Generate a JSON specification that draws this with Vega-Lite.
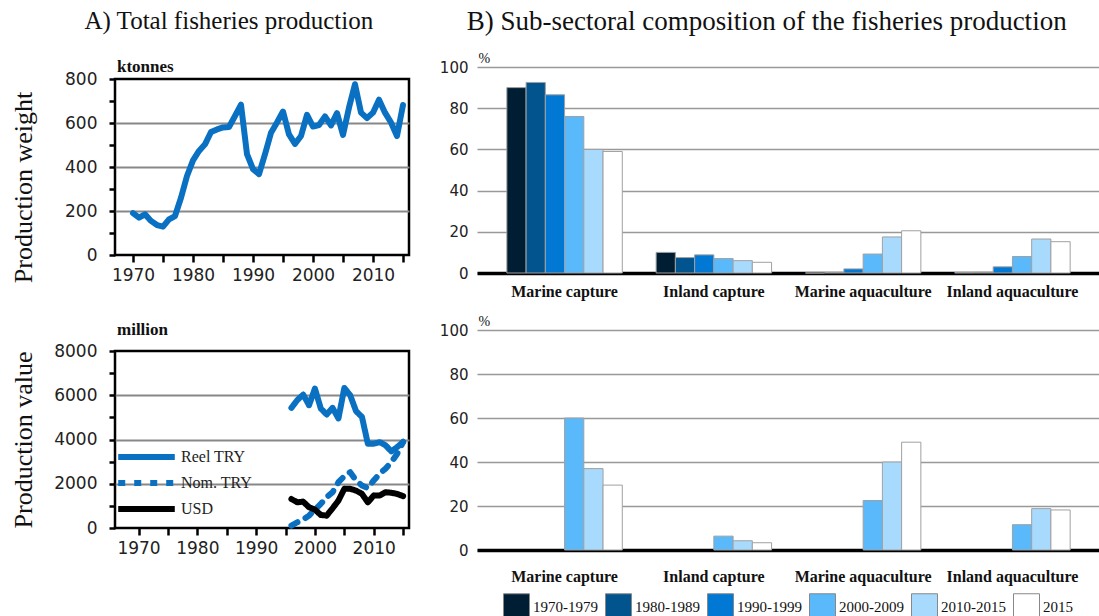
{
  "$schema": "https://vega.github.io/schema/vega-lite/v6.json",
  "background": "white",
  "padding": {"left": 9, "top": 8, "right": 0, "bottom": 0},
  "config": {"view": {"stroke": null}, "font": "Liberation Serif"},
  "spacing": 28,
  "resolve": {"scale": {"color": "independent", "strokeDash": "independent"}, "legend": {"color": "independent", "strokeDash": "independent"}},
  "hconcat": [
    {
      "title": {"text": "A) Total fisheries production", "font": "Liberation Serif", "fontSize": 25, "fontWeight": "normal", "color": "#111", "anchor": "middle", "dx": 19, "offset": 24},
      "spacing": 34,
      "resolve": {"scale": {"color": "independent", "strokeDash": "independent"}, "legend": {"color": "independent", "strokeDash": "independent"}},
      "vconcat": [
        {
          "spacing": -7,
          "vconcat": [
            {
              "width": 294,
              "height": 1,
              "data": {"values": []},
              "mark": {"type": "point", "opacity": 0},
              "title": {"text": "ktonnes", "anchor": "start", "frame": "group", "font": "Liberation Serif", "fontSize": 17, "fontWeight": "bold", "color": "#111", "offset": 0, "dx": 2, "dy": 9}
            },
            {
              "width": 294,
              "height": 176,
              "view": {"stroke": "#000", "strokeWidth": 2.5},
              "data": {"values": [
                {"year": 1970, "value": 190}, {"year": 1971, "value": 170}, {"year": 1972, "value": 185}, {"year": 1973, "value": 155},
                {"year": 1974, "value": 136}, {"year": 1975, "value": 129}, {"year": 1976, "value": 162}, {"year": 1977, "value": 177},
                {"year": 1978, "value": 260}, {"year": 1979, "value": 359}, {"year": 1980, "value": 430}, {"year": 1981, "value": 473},
                {"year": 1982, "value": 503}, {"year": 1983, "value": 559}, {"year": 1984, "value": 571}, {"year": 1985, "value": 580},
                {"year": 1986, "value": 582}, {"year": 1987, "value": 632}, {"year": 1988, "value": 683}, {"year": 1989, "value": 458},
                {"year": 1990, "value": 390}, {"year": 1991, "value": 368}, {"year": 1992, "value": 458}, {"year": 1993, "value": 556},
                {"year": 1994, "value": 602}, {"year": 1995, "value": 652}, {"year": 1996, "value": 548}, {"year": 1997, "value": 505},
                {"year": 1998, "value": 541}, {"year": 1999, "value": 637}, {"year": 2000, "value": 584}, {"year": 2001, "value": 591},
                {"year": 2002, "value": 630}, {"year": 2003, "value": 589}, {"year": 2004, "value": 645}, {"year": 2005, "value": 546},
                {"year": 2006, "value": 670}, {"year": 2007, "value": 776}, {"year": 2008, "value": 647}, {"year": 2009, "value": 622},
                {"year": 2010, "value": 647}, {"year": 2011, "value": 706}, {"year": 2012, "value": 647}, {"year": 2013, "value": 602},
                {"year": 2014, "value": 541}, {"year": 2015, "value": 682}
              ]},
              "mark": {"type": "line", "color": "#0a70c2", "strokeWidth": 6, "strokeJoin": "round", "strokeCap": "round"},
              "encoding": {
                "x": {"field": "year", "type": "quantitative", "scale": {"domain": [1967, 2016], "nice": false, "zero": false},
                  "axis": {"values": [1970, 1975, 1980, 1985, 1990, 1995, 2000, 2005, 2010, 2015], "format": "d", "labelExpr": "datum.value % 10 === 0 ? datum.label : ''",
                    "title": null, "domain": false, "grid": false, "tickColor": "#000", "tickWidth": 2.5, "tickSize": 7,
                    "labelFont": "DejaVu Sans", "labelFontSize": 17, "labelColor": "#222", "labelPadding": 5, "labelFlush": false}},
                "y": {"field": "value", "type": "quantitative", "scale": {"domain": [0, 800], "nice": false},
                  "axis": {"values": [0, 100, 200, 300, 400, 500, 600, 700, 800], "labelExpr": "datum.value % 200 === 0 ? datum.label : ''",
                    "title": "Production weight", "titleFont": "Liberation Serif", "titleFontSize": 26, "titleFontWeight": "normal", "titleColor": "#111", "titlePadding": 28, "titleY": 108,
                    "domain": false, "tickColor": "#000", "tickWidth": 2.5, "tickSize": 6,
                    "labelFont": "DejaVu Sans", "labelFontSize": 17, "labelColor": "#222", "labelPadding": 12, "labelFlush": false,
                    "grid": true, "gridWidth": 2,
                    "gridColor": {"condition": {"test": "datum.value % 200 === 0 && datum.value > 0 && datum.value < 800", "value": "#888"}, "value": "transparent"}}}
              }
            }
          ]
        },
        {
          "width": 294,
          "height": 177,
          "view": {"stroke": "#000", "strokeWidth": 2.5},
          "title": {"text": "million", "anchor": "start", "frame": "group", "font": "Liberation Serif", "fontSize": 17, "fontWeight": "bold", "color": "#111", "offset": 3, "dx": 2},
          "data": {"values": [
            {"year": 1996, "series": "Reel TRY", "value": 5430}, {"year": 1997, "series": "Reel TRY", "value": 5780}, {"year": 1998, "series": "Reel TRY", "value": 6030},
            {"year": 1999, "series": "Reel TRY", "value": 5550}, {"year": 2000, "series": "Reel TRY", "value": 6300}, {"year": 2001, "series": "Reel TRY", "value": 5400},
            {"year": 2002, "series": "Reel TRY", "value": 5130}, {"year": 2003, "series": "Reel TRY", "value": 5430}, {"year": 2004, "series": "Reel TRY", "value": 4950},
            {"year": 2005, "series": "Reel TRY", "value": 6330}, {"year": 2006, "series": "Reel TRY", "value": 6000}, {"year": 2007, "series": "Reel TRY", "value": 5280},
            {"year": 2008, "series": "Reel TRY", "value": 5020}, {"year": 2009, "series": "Reel TRY", "value": 3810}, {"year": 2010, "series": "Reel TRY", "value": 3810},
            {"year": 2011, "series": "Reel TRY", "value": 3880}, {"year": 2012, "series": "Reel TRY", "value": 3740}, {"year": 2013, "series": "Reel TRY", "value": 3460},
            {"year": 2014, "series": "Reel TRY", "value": 3660}, {"year": 2015, "series": "Reel TRY", "value": 3890},
            {"year": 1996, "series": "Nom. TRY", "value": 110}, {"year": 1997, "series": "Nom. TRY", "value": 260}, {"year": 1998, "series": "Nom. TRY", "value": 380},
            {"year": 1999, "series": "Nom. TRY", "value": 560}, {"year": 2000, "series": "Nom. TRY", "value": 830}, {"year": 2001, "series": "Nom. TRY", "value": 1090},
            {"year": 2002, "series": "Nom. TRY", "value": 1390}, {"year": 2003, "series": "Nom. TRY", "value": 1620}, {"year": 2004, "series": "Nom. TRY", "value": 2070},
            {"year": 2005, "series": "Nom. TRY", "value": 2340}, {"year": 2006, "series": "Nom. TRY", "value": 2520}, {"year": 2007, "series": "Nom. TRY", "value": 2150},
            {"year": 2008, "series": "Nom. TRY", "value": 1920}, {"year": 2009, "series": "Nom. TRY", "value": 1800}, {"year": 2010, "series": "Nom. TRY", "value": 2150},
            {"year": 2011, "series": "Nom. TRY", "value": 2450}, {"year": 2012, "series": "Nom. TRY", "value": 2680}, {"year": 2013, "series": "Nom. TRY", "value": 2980},
            {"year": 2014, "series": "Nom. TRY", "value": 3360}, {"year": 2015, "series": "Nom. TRY", "value": 3890},
            {"year": 1996, "series": "USD", "value": 1310}, {"year": 1997, "series": "USD", "value": 1160}, {"year": 1998, "series": "USD", "value": 1190},
            {"year": 1999, "series": "USD", "value": 940}, {"year": 2000, "series": "USD", "value": 830}, {"year": 2001, "series": "USD", "value": 590},
            {"year": 2002, "series": "USD", "value": 560}, {"year": 2003, "series": "USD", "value": 890}, {"year": 2004, "series": "USD", "value": 1240},
            {"year": 2005, "series": "USD", "value": 1770}, {"year": 2006, "series": "USD", "value": 1770}, {"year": 2007, "series": "USD", "value": 1690},
            {"year": 2008, "series": "USD", "value": 1540}, {"year": 2009, "series": "USD", "value": 1160}, {"year": 2010, "series": "USD", "value": 1470},
            {"year": 2011, "series": "USD", "value": 1470}, {"year": 2012, "series": "USD", "value": 1620}, {"year": 2013, "series": "USD", "value": 1590},
            {"year": 2014, "series": "USD", "value": 1540}, {"year": 2015, "series": "USD", "value": 1440}
          ]},
          "mark": {"type": "line", "strokeWidth": 6, "strokeJoin": "round", "strokeCap": "round"},
          "encoding": {
            "x": {"field": "year", "type": "quantitative", "scale": {"domain": [1966, 2016], "nice": false, "zero": false},
              "axis": {"values": [1970, 1975, 1980, 1985, 1990, 1995, 2000, 2005, 2010, 2015], "format": "d", "labelExpr": "datum.value % 10 === 0 ? datum.label : ''",
                "title": null, "domain": false, "grid": false, "tickColor": "#000", "tickWidth": 2.5, "tickSize": 7,
                "labelFont": "DejaVu Sans", "labelFontSize": 17, "labelColor": "#222", "labelPadding": 5, "labelFlush": false}},
            "y": {"field": "value", "type": "quantitative", "scale": {"domain": [0, 8000], "nice": false},
              "axis": {"values": [0, 1000, 2000, 3000, 4000, 5000, 6000, 7000, 8000], "labelExpr": "datum.value % 2000 === 0 ? datum.label : ''", "format": "d",
                "title": "Production value", "titleFont": "Liberation Serif", "titleFontSize": 26, "titleFontWeight": "normal", "titleColor": "#111", "titlePadding": 17,
                "domain": false, "tickColor": "#000", "tickWidth": 2.5, "tickSize": 6,
                "labelFont": "DejaVu Sans", "labelFontSize": 17, "labelColor": "#222", "labelPadding": 12, "labelFlush": false,
                "grid": true, "gridWidth": 2,
                "gridColor": {"condition": {"test": "datum.value % 2000 === 0 && datum.value > 0 && datum.value < 8000", "value": "#888"}, "value": "transparent"}}},
            "color": {"field": "series", "type": "nominal", "sort": ["Reel TRY", "Nom. TRY", "USD"],
              "scale": {"domain": ["Reel TRY", "Nom. TRY", "USD"], "range": ["#0a70c2", "#0a70c2", "#000000"]},
              "legend": {"orient": "none", "legendX": 0, "legendY": 94, "title": null, "symbolType": "stroke", "symbolSize": 3200, "symbolStrokeWidth": 6, "clipHeight": 24,
                "labelFont": "Liberation Serif", "labelFontSize": 16, "labelColor": "#222", "labelOffset": 3, "rowPadding": 2}},
            "strokeDash": {"field": "series", "type": "nominal", "sort": ["Reel TRY", "Nom. TRY", "USD"],
              "scale": {"domain": ["Reel TRY", "Nom. TRY", "USD"], "range": [[1, 0], [7, 9], [1, 0]]},
              "legend": {"orient": "none", "legendX": 0, "legendY": 94, "title": null, "symbolType": "stroke", "symbolSize": 3200, "symbolStrokeWidth": 6, "clipHeight": 24,
                "labelFont": "Liberation Serif", "labelFontSize": 16, "labelColor": "#222", "labelOffset": 3, "rowPadding": 2}}
          }
        }
      ]
    },
    {
      "title": {"text": "B) Sub-sectoral composition of the fisheries production", "font": "Liberation Serif", "fontSize": 27, "fontWeight": "normal", "color": "#111", "anchor": "middle", "dx": -3, "offset": 15},
      "spacing": 15,
      "resolve": {"scale": {"color": "shared"}, "legend": {"color": "independent"}},
      "vconcat": [
        {
          "width": 623,
          "height": 206,
          "data": {"values": [
            {"sector": "Marine capture", "period": "1970-1979", "pct": 90}, {"sector": "Marine capture", "period": "1980-1989", "pct": 92.5},
            {"sector": "Marine capture", "period": "1990-1999", "pct": 86.5}, {"sector": "Marine capture", "period": "2000-2009", "pct": 76},
            {"sector": "Marine capture", "period": "2010-2015", "pct": 60}, {"sector": "Marine capture", "period": "2015", "pct": 59},
            {"sector": "Inland capture", "period": "1970-1979", "pct": 10}, {"sector": "Inland capture", "period": "1980-1989", "pct": 7.5},
            {"sector": "Inland capture", "period": "1990-1999", "pct": 8.8}, {"sector": "Inland capture", "period": "2000-2009", "pct": 7},
            {"sector": "Inland capture", "period": "2010-2015", "pct": 6}, {"sector": "Inland capture", "period": "2015", "pct": 5.2},
            {"sector": "Marine aquaculture", "period": "1970-1979", "pct": 0}, {"sector": "Marine aquaculture", "period": "1980-1989", "pct": 0.2},
            {"sector": "Marine aquaculture", "period": "1990-1999", "pct": 2}, {"sector": "Marine aquaculture", "period": "2000-2009", "pct": 9.2},
            {"sector": "Marine aquaculture", "period": "2010-2015", "pct": 17.5}, {"sector": "Marine aquaculture", "period": "2015", "pct": 20.5},
            {"sector": "Inland aquaculture", "period": "1970-1979", "pct": 0.2}, {"sector": "Inland aquaculture", "period": "1980-1989", "pct": 0.3},
            {"sector": "Inland aquaculture", "period": "1990-1999", "pct": 3}, {"sector": "Inland aquaculture", "period": "2000-2009", "pct": 8},
            {"sector": "Inland aquaculture", "period": "2010-2015", "pct": 16.5}, {"sector": "Inland aquaculture", "period": "2015", "pct": 15.2}
          ]},
          "mark": {"type": "bar", "stroke": "#a0a0a0", "strokeWidth": 1},
          "encoding": {
            "x": {"field": "sector", "type": "nominal", "sort": ["Marine capture", "Inland capture", "Marine aquaculture", "Inland aquaculture"],
              "scale": {"paddingInner": 0.2267, "paddingOuter": 0.2},
              "axis": {"title": null, "labelAngle": 0, "ticks": false, "domain": true, "domainColor": "#000", "domainWidth": 3.5,
                "labelFont": "Liberation Serif", "labelFontWeight": "bold", "labelFontSize": 16, "labelColor": "#111", "labelPadding": 10}},
            "xOffset": {"field": "period", "type": "nominal", "scale": {"domain": ["1970-1979", "1980-1989", "1990-1999", "2000-2009", "2010-2015", "2015"], "paddingInner": 0}},
            "y": {"field": "pct", "type": "quantitative", "scale": {"domain": [0, 100], "nice": false},
              "axis": {"values": [0, 20, 40, 60, 80, 100], "domain": false, "ticks": false, "grid": true, "gridColor": "#999", "gridWidth": 1.5,
                "labelFont": "DejaVu Sans", "labelFontSize": 15, "labelColor": "#222", "labelPadding": 9,
                "title": "%", "titleAngle": 0, "titleAlign": "left", "titleBaseline": "bottom", "titleX": 1, "titleY": -2,
                "titleFont": "Liberation Serif", "titleFontSize": 14, "titleFontWeight": "normal", "titleColor": "#111"}},
            "color": {"field": "period", "type": "nominal",
              "scale": {"domain": ["1970-1979", "1980-1989", "1990-1999", "2000-2009", "2010-2015", "2015"], "range": ["#001e33", "#02548f", "#0078d4", "#5ab9fb", "#a8dafd", "#ffffff"]},
              "legend": null}
          }
        },
        {
          "width": 623,
          "height": 220,
          "data": {"values": [
            {"sector": "Marine capture", "period": "2000-2009", "pct": 60}, {"sector": "Marine capture", "period": "2010-2015", "pct": 37},
            {"sector": "Marine capture", "period": "2015", "pct": 29.5},
            {"sector": "Inland capture", "period": "2000-2009", "pct": 6.3}, {"sector": "Inland capture", "period": "2010-2015", "pct": 4.2},
            {"sector": "Inland capture", "period": "2015", "pct": 3.3},
            {"sector": "Marine aquaculture", "period": "2000-2009", "pct": 22.5}, {"sector": "Marine aquaculture", "period": "2010-2015", "pct": 40},
            {"sector": "Marine aquaculture", "period": "2015", "pct": 49},
            {"sector": "Inland aquaculture", "period": "2000-2009", "pct": 11.5}, {"sector": "Inland aquaculture", "period": "2010-2015", "pct": 18.8},
            {"sector": "Inland aquaculture", "period": "2015", "pct": 18.2}
          ]},
          "mark": {"type": "bar", "stroke": "#a0a0a0", "strokeWidth": 1},
          "encoding": {
            "x": {"field": "sector", "type": "nominal", "sort": ["Marine capture", "Inland capture", "Marine aquaculture", "Inland aquaculture"],
              "scale": {"domain": ["Marine capture", "Inland capture", "Marine aquaculture", "Inland aquaculture"], "paddingInner": 0.2267, "paddingOuter": 0.2},
              "axis": {"title": null, "labelAngle": 0, "ticks": false, "domain": true, "domainColor": "#000", "domainWidth": 3.5,
                "labelFont": "Liberation Serif", "labelFontWeight": "bold", "labelFontSize": 16, "labelColor": "#111", "labelPadding": 18}},
            "xOffset": {"field": "period", "type": "nominal", "scale": {"domain": ["1970-1979", "1980-1989", "1990-1999", "2000-2009", "2010-2015", "2015"], "paddingInner": 0}},
            "y": {"field": "pct", "type": "quantitative", "scale": {"domain": [0, 100], "nice": false},
              "axis": {"values": [0, 20, 40, 60, 80, 100], "domain": false, "ticks": false, "grid": true, "gridColor": "#999", "gridWidth": 1.5,
                "labelFont": "DejaVu Sans", "labelFontSize": 15, "labelColor": "#222", "labelPadding": 9,
                "title": "%", "titleAngle": 0, "titleAlign": "left", "titleBaseline": "bottom", "titleX": 1, "titleY": -2,
                "titleFont": "Liberation Serif", "titleFontSize": 14, "titleFontWeight": "normal", "titleColor": "#111"}},
            "color": {"field": "period", "type": "nominal",
              "scale": {"domain": ["1970-1979", "1980-1989", "1990-1999", "2000-2009", "2010-2015", "2015"], "range": ["#001e33", "#02548f", "#0078d4", "#5ab9fb", "#a8dafd", "#ffffff"]},
              "legend": {"orient": "none", "legendX": 26, "legendY": 263, "direction": "horizontal", "title": null, "symbolType": "square", "symbolSize": 676,
                "symbolStrokeColor": "#888", "symbolStrokeWidth": 1, "symbolOpacity": 1,
                "labelFont": "Liberation Serif", "labelFontSize": 15, "labelColor": "#111", "labelOffset": 3, "columnPadding": 5}}
          }
        }
      ]
    }
  ]
}
